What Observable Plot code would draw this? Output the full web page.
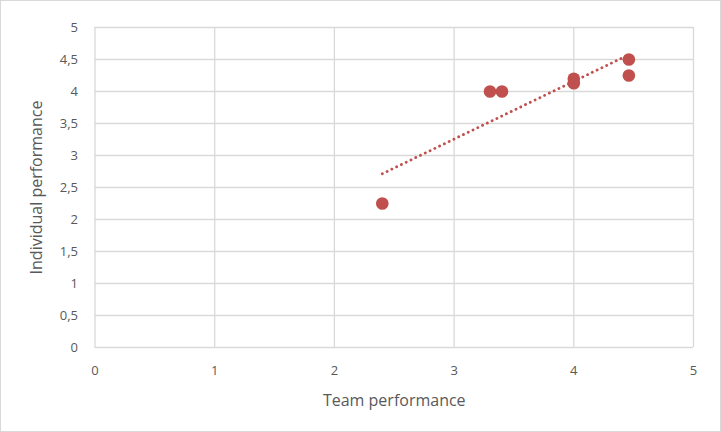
<!DOCTYPE html>
<html>
<head>
<meta charset="utf-8">
<script src="https://cdn.jsdelivr.net/npm/d3@7"></script>
<script src="https://cdn.jsdelivr.net/npm/@observablehq/plot@0.6"></script>
<style>
  html, body { margin: 0; padding: 0; background: #fff; }
  #chart svg { display: block; outline: 1px solid #d9d9d9; outline-offset: -1px; }
</style>
</head>
<body>
<div id="chart"></div>
<script>
const teamPerformance = [2.4, 3.3, 3.4, 4.0, 4.0, 4.46, 4.46];
const individualPerformance = [2.25, 4.0, 4.0, 4.2, 4.13, 4.5, 4.25];
const xTicks = [0, 1, 2, 3, 4, 5];
const yTicks = [0, 0.5, 1, 1.5, 2, 2.5, 3, 3.5, 4, 4.5, 5];
const xTitle = "Team performance";
const yTitle = "Individual performance";

const data = teamPerformance.map((t, i) => ({team: t, individual: individualPerformance[i]}));
const fmt = d => String(d).replace(".", ",");
const red = "#c0504d";
const font = "'Open Sans', sans-serif";

const chart = Plot.plot({
  width: 721,
  height: 432,
  marginLeft: 94.5,
  marginRight: 28,
  marginTop: 27,
  marginBottom: 85,
  style: {fontFamily: font, color: "#595959", background: "#fff"},
  x: {domain: [0, 5]},
  y: {domain: [0, 5]},
  marks: [
    Plot.gridX(xTicks, {stroke: "#d9d9d9", strokeOpacity: 1, strokeWidth: 1.3}),
    Plot.gridY(yTicks, {stroke: "#d9d9d9", strokeOpacity: 1, strokeWidth: 1.3}),
    Plot.axisX({ticks: xTicks, tickSize: 0, tickPadding: 18, fontSize: 13, tickFormat: fmt,
      label: xTitle, labelAnchor: "center", labelArrow: "none", labelOffset: 58}),
    Plot.axisY({ticks: yTicks, tickSize: 0, tickPadding: 17, fontSize: 13, tickFormat: fmt,
      label: yTitle, labelAnchor: "center", labelArrow: "none", labelOffset: 64}),
    Plot.linearRegressionY(data, {x: "team", y: "individual", ci: 0, stroke: red,
      strokeWidth: 2.8, strokeDasharray: "0.1,5.2", strokeLinecap: "round"}),
    Plot.dot(data, {x: "team", y: "individual", r: 6.3, fill: red, stroke: "none"})
  ]
});
chart.querySelectorAll("[aria-label='x-axis label'] text, [aria-label='y-axis label'] text").forEach(t => t.setAttribute("font-size", "16"));
document.getElementById("chart").appendChild(chart);
</script>
</body>
</html>
